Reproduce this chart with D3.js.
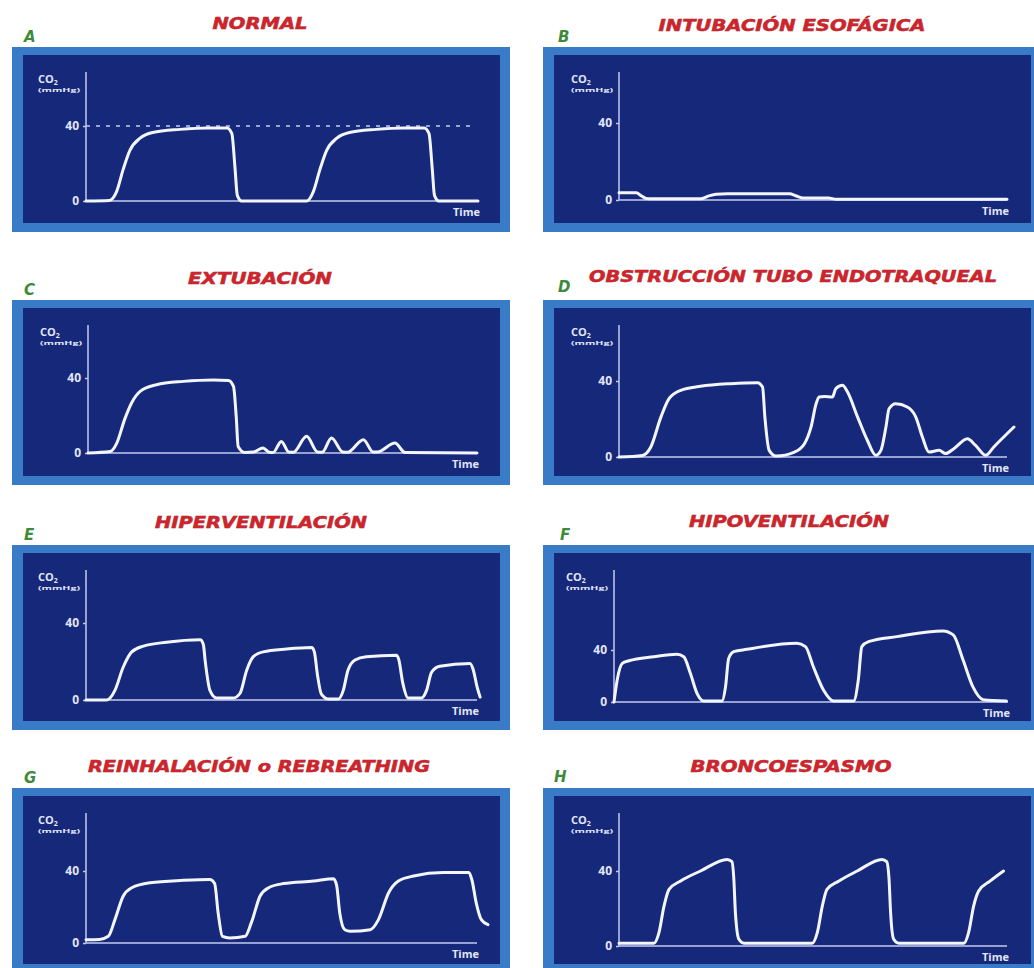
<!DOCTYPE html>
<meta charset="utf-8">
<style>
  body { margin: 0; background: #fff; }
  svg { display: block; }
</style>
<svg width="1034" height="968"></svg>
<script src="https://d3js.org/d3.v7.min.js"></script>
<script>
// capnografia: 8 curvas, valores [tiempo (0-100), CO2 mmHg]
var titles = ["NORMAL", "INTUBACIÓN ESOFÁGICA", "EXTUBACIÓN", "OBSTRUCCIÓN TUBO ENDOTRAQUEAL",
              "HIPERVENTILACIÓN", "HIPOVENTILACIÓN", "REINHALACIÓN o REBREATHING", "BRONCOESPASMO"];
var letters = ["A", "B", "C", "D", "E", "F", "G", "H"];
var yTicks = [0, 40];
var normalRef = 40; // linea punteada del panel A

var normal = [[0,0],[6,0.3],[7.8,5],[9.5,17],[11.2,27],[13.8,33.5],[17,36.5],[24,38.2],[31,39],[36,39],
  [37.2,36],[38,18],[38.6,3],[39.7,0],[56.3,0],[58,5],[59.7,17],[61.4,27],[64,33.5],[67.2,36.5],
  [74,38.2],[81,39],[86.3,39],[87.5,36],[88.3,18],[88.9,3],[90,0],[100,0]];

var esofagica = [[0,3.8],[4.5,3.8],[5.5,2.5],[7,0.8],[8.5,0.6],[21,0.6],[23,2],[25,3],[28,3.2],[44,3.2],
  [45.5,2.2],[47.5,1],[54,1],[56,0.4],[100,0.4]];

var extubacion = [[0,0],[5.7,0.8],[7.4,5.3],[9.4,17.8],[11.2,26.7],[13.4,32.9],[17.6,36.4],[24.5,38.2],
  [32.2,39],[36.1,38.7],[37.4,35.5],[38.1,19.5],[38.6,3.5],[40.3,0.3],[42.5,0.5],[45,2.7],[46.6,0.4],[47.6,0.3],
  [49.7,6.2],[51.6,0.5],[52.8,0.4],[56.2,8.9],[59,0.5],[60.2,0.4],[62.6,8],[65.5,0.5],[66.7,0.4],[70.8,7.1],
  [73.3,0.5],[74.4,0.5],[78.9,5.3],[81.5,0.3],[100,0]];

var obstruccion = [[0,0],[6,0.8],[8.2,5.3],[10.8,21],[12.9,30.7],[15.9,35.1],[21,37.2],[28.8,38.6],[35.7,39.1],
  [37,36.8],[37.6,21],[38.7,3.5],[40.5,0.5],[45.2,2.6],[47.8,7],[49.5,15.8],[50.8,28],[51.6,31.6],[52.9,31.9],
  [55,31.6],[55.9,36],[57.6,37.7],[58.9,34.2],[61.5,21],[64,8.8],[66.2,0.9],[67.5,3.5],[68.8,15.8],[69.6,25.4],
  [71.3,28],[74.3,26.3],[76.5,21],[78.2,10.5],[79.9,2.6],[82.5,3.5],[84.2,1.8],[86.3,4.4],[89.8,9.6],[91.9,6.1],
  [94.5,0.9],[96.6,5.3],[101.8,15.8]];

var hiperventilacion = [[0,0],[5.3,0],[7.4,5],[9.5,17],[11.7,25],[14.7,28],[20.6,30],[29.2,31.3],[30,29],
  [30.5,20],[31.7,5],[33.4,1],[37.7,1],[39.4,3.5],[41.1,15.5],[42.8,22.5],[45.3,25],[51.3,26.5],[57.7,27.3],
  [58.4,25],[59.2,13],[60.2,3],[61.9,0.5],[64.5,0.5],[65.8,5],[67,15.5],[68.8,20.8],[71.7,22.5],[79.4,23.3],
  [80,21],[81,9],[82.4,1],[85.8,1],[87.1,5],[88.4,14.5],[90.5,17.5],[98.2,19],[99,16],[100,7],[100.8,1.5]];

var hipoventilacion = [[0,0],[0.8,16.8],[2.1,29.7],[3.8,31.7],[10.1,34.8],[16,36.7],[17.7,34.8],[19.4,21.9],
  [21.1,6.5],[22.8,0.8],[27.4,0.8],[28.3,11.6],[29.1,33.5],[30.4,38.7],[33.7,40.5],[46.4,45.1],[48.6,42.6],
  [50.6,27.1],[53.2,9],[55.7,0.8],[60.8,0.8],[62,16.8],[62.9,42.6],[64.6,46.4],[71.8,50.3],[83.5,54.7],
  [86.1,51.6],[88.6,32.3],[91.1,11.6],[93.7,1.8],[99.6,0.8]];

var reinhalacion = [[0,1.8],[3.5,2],[5.7,3.7],[7.4,13],[9.5,26],[11.7,30.7],[16.4,33.5],[24.9,34.8],[31.7,35.3],
  [32.9,33],[33.8,16.7],[34.9,3.7],[36.8,2.8],[40.7,3.7],[42.4,12],[44.5,26],[46.7,30.7],[50.5,33],[58.2,34.4],
  [63.3,35.7],[64.1,32],[64.9,16.7],[66.2,7.4],[67.6,6.5],[72.7,7.4],[74.8,13],[77.4,27.9],[79.9,34.4],
  [83.8,37.2],[91.4,39.1],[97.9,39.1],[98.7,35],[99.8,22.3],[101.1,13],[102.8,10.2]];

var broncoespasmo = [[0,1.5],[9,1.5],[10.3,7.1],[11.6,21.3],[12.9,30.2],[15.9,34.7],[21,40],[27.9,46.2],
  [29.1,45],[29.6,35.6],[30,17.8],[30.9,3.6],[32.2,1.5],[49.8,1.5],[51.1,7.1],[52.4,21.3],[53.6,30.2],
  [56.7,34.7],[61.4,40],[67.8,46.2],[69,45],[69.6,35.6],[70,17.8],[70.8,3.6],[72.1,1.5],[88.9,1.5],
  [90.1,7.1],[91.4,21.3],[92.7,29.3],[95.7,34.7],[99.1,40]];

var series = [normal, esofagica, extubacion, obstruccion, hiperventilacion, hipoventilacion, reinhalacion, broncoespasmo];

// posiciones de cada panel (px)
var rowsY = [47, 300, 545, 788];
var colsX = [12, 543];
var layout = [
  {axisX: 86,  base: 201, h40: 75, xEnd: 478,  title: [260, 29, 95],  letter: [24, 42]},
  {axisX: 619, base: 200, h40: 77, xEnd: 1007, title: [792, 31, 267], letter: [558, 42]},
  {axisX: 88,  base: 453, h40: 75, xEnd: 477,  title: [260, 284, 144], letter: [24, 295]},
  {axisX: 619, base: 457, h40: 76, xEnd: 1007, title: [793, 282, 408], letter: [558, 292]},
  {axisX: 86,  base: 700, h40: 77, xEnd: 477,  title: [261, 528, 212], letter: [24, 540]},
  {axisX: 614, base: 702, h40: 52, xEnd: 1008, title: [789, 527, 200], letter: [560, 540]},
  {axisX: 86,  base: 943, h40: 72, xEnd: 477,  title: [259, 772, 342], letter: [24, 783]},
  {axisX: 619, base: 946, h40: 75, xEnd: 1007, title: [791, 772, 201], letter: [554, 782]}
];

var svg = d3.select("svg");
svg.append("rect").attr("width", 1034).attr("height", 968).attr("fill", "#ffffff");

var axisColor = "#c3caf0", textColor = "#e2e6f7";

series.forEach(function(data, i) {
  var L = layout[i];
  var ox = colsX[i % 2], oy = rowsY[Math.floor(i / 2)];
  var g = svg.append("g");

  // marco
  g.append("rect").attr("x", ox).attr("y", oy).attr("width", 498).attr("height", 185)
    .attr("fill", "#3a7bc8");
  g.append("rect").attr("x", ox + 11).attr("y", oy + 8).attr("width", 477).attr("height", 168)
    .attr("fill", "#16287a");

  // titulo + letra
  g.append("text").attr("x", L.title[0]).attr("y", L.title[1])
    .attr("text-anchor", "middle")
    .attr("textLength", L.title[2]).attr("lengthAdjust", "spacingAndGlyphs")
    .style("font", "italic bold 16px 'DejaVu Sans'")
    .attr("fill", "#d0232b").attr("stroke", "#8a1a20").attr("stroke-width", 0.5)
    .attr("paint-order", "stroke")
    .text(titles[i]);
  g.append("text").attr("x", L.letter[0]).attr("y", L.letter[1])
    .style("font", "italic bold 15px 'DejaVu Sans'")
    .attr("fill", "#3e8a3a")
    .text(letters[i]);

  var axisTop = oy + 25;
  var x = d3.scaleLinear().domain([0, 100]).range([L.axisX, L.xEnd]);
  var y = d3.scaleLinear().domain([0, 40]).range([L.base, L.base - L.h40]);

  // ejes
  g.append("line").attr("x1", L.axisX).attr("x2", L.axisX).attr("y1", axisTop).attr("y2", L.base)
    .attr("stroke", axisColor).attr("stroke-width", 1.5);
  g.append("line").attr("x1", L.axisX).attr("x2", L.xEnd).attr("y1", L.base).attr("y2", L.base)
    .attr("stroke", axisColor).attr("stroke-width", 1.5);

  var yAxis = d3.axisLeft(y).tickValues(yTicks).tickSize(3).tickPadding(4);
  var ya = g.append("g").attr("transform", "translate(" + L.axisX + ",0)").call(yAxis);
  ya.select(".domain").remove();
  ya.selectAll("line").attr("stroke", axisColor).attr("stroke-width", 1.5);
  ya.selectAll("text").attr("fill", textColor)
    .style("font", "bold 12px 'Open Sans'");

  // etiquetas
  var co2 = g.append("text").attr("x", L.axisX - 48).attr("y", axisTop + 11)
    .attr("fill", textColor).style("font", "bold 11px 'Open Sans'");
  co2.append("tspan").text("CO");
  co2.append("tspan").attr("dy", 2).style("font-size", "7px").text("2");
  g.append("text").attr("x", L.axisX - 48).attr("y", axisTop + 20)
    .attr("textLength", 42).attr("lengthAdjust", "spacingAndGlyphs")
    .attr("fill", textColor).style("font", "bold 6px 'Open Sans'").text("(mmHg)");
  g.append("text").attr("x", L.xEnd + 2).attr("y", L.base + 15)
    .attr("text-anchor", "end")
    .attr("fill", textColor).style("font", "bold 11px 'Open Sans'").text("Time");

  if (i === 0) {
    g.append("line").attr("x1", x(0)).attr("x2", L.xEnd - 3)
      .attr("y1", y(normalRef)).attr("y2", y(normalRef))
      .attr("stroke", axisColor).attr("stroke-width", 1.5)
      .attr("stroke-dasharray", "4,6");
  }

  var line = d3.line()
    .x(function(d) { return x(d[0]); })
    .y(function(d) { return y(d[1]); })
    .curve(d3.curveMonotoneX);

  g.append("path").datum(data).attr("d", line)
    .attr("fill", "none").attr("stroke", "#f3f5ff").attr("stroke-width", 3)
    .attr("stroke-linejoin", "round").attr("stroke-linecap", "round");
});
</script>
